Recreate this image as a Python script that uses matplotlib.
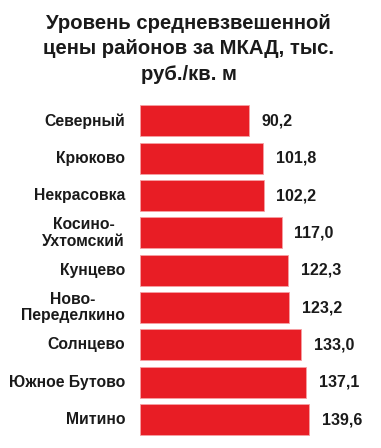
#!/usr/bin/env python3

"""Average weighted price of districts outside MKAD, horizontal bars."""

import matplotlib
matplotlib.use("Agg")
import matplotlib.pyplot as plt

districts = ["Северный", "Крюково", "Некрасовка", "Косино-\nУхтомский", "Кунцево",
             "Ново-\nПеределкино", "Солнцево", "Южное Бутово", "Митино"]
prices = [90.2, 101.8, 102.2, 117.0, 122.3, 123.2, 133.0, 137.1, 139.6]
value_labels = ["90,2", "101,8", "102,2", "117,0", "122,3", "123,2", "133,0", "137,1", "139,6"]

plt.rcParams['font.family'] = ['Liberation Sans', 'DejaVu Sans']

W, H, DPI = 381, 448, 100
fig = plt.figure(figsize=(W / DPI, H / DPI), dpi=DPI)
ax = fig.add_axes([139.5 / W, (H - 438.3) / H, 230 / W, 336 / H])

pos = list(range(len(districts)))
ax.barh(pos, prices, height=0.83, color='#E81D25', edgecolor='#F6A0A3', linewidth=0.6)
ax.set_xlim(0, 230 / 1.2146)
ax.set_ylim(len(districts) - 0.5, -0.5)
ax.axis('off')

for i, (name, v, lab) in enumerate(zip(districts, prices, value_labels)):
    ax.annotate(name, xy=(0, i), xytext=(-10.4, 0), textcoords='offset points',
                ha='right', va='center', multialignment='center',
                fontsize=11.3, fontweight='bold', color='#1a1a1a', linespacing=1.1)
    ax.annotate(lab, xy=(v, i), xytext=(9, 0), textcoords='offset points',
                ha='left', va='center', fontsize=11.5, fontweight='bold', color='#1a1a1a')

fig.text(188.5 / W, 1 - 14 / H, "Уровень средневзвешенной\nцены районов за МКАД, тыс.\nруб./кв. м",
         ha='center', va='top', fontsize=14.6, fontweight='bold', color='#1a1a1a',
         linespacing=1.42)

fig.savefig('out.png', dpi=DPI)
